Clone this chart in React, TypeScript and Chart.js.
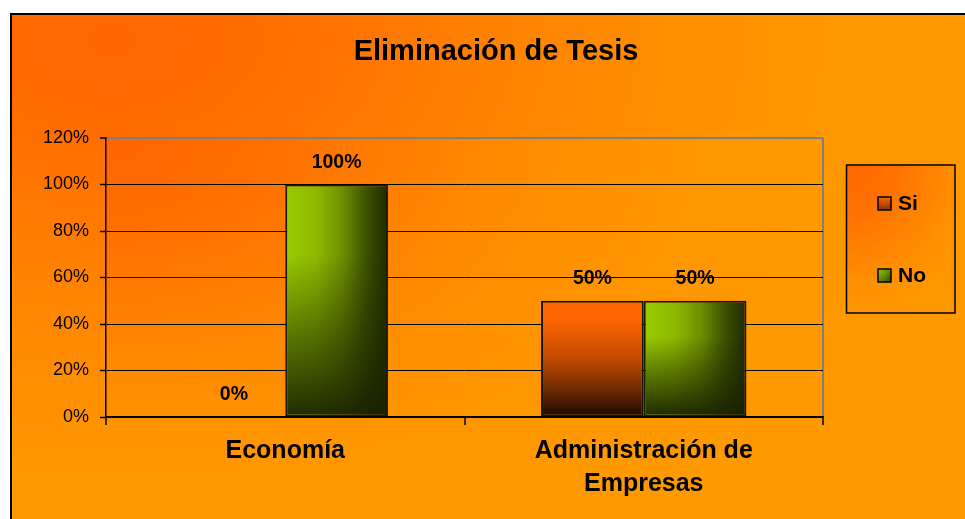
import React, { useEffect, useRef } from 'react';
import { Chart, registerables } from 'chart.js';

Chart.register(...registerables);

const titleText = 'Eliminación de Tesis';
const categories: (string | string[])[] = ['Economía', ['Administración de', 'Empresas']];
const seriesNames = ['Si', 'No'];
const siValues = [0, 50];
const noValues = [100, 50];
const yMax = 120;
const yStep = 20;

const FONT = "'Liberation Sans', Arial, Helvetica, sans-serif";
const CAT_PCT = 0.573;

type Stop = [number, string];

function fillElliptical(
  ctx: CanvasRenderingContext2D,
  cx: number, cy: number, rx: number, ry: number,
  stops: Stop[], x: number, y: number, w: number, h: number
) {
  ctx.save();
  ctx.beginPath();
  ctx.rect(x, y, w, h);
  ctx.clip();
  ctx.translate(cx, cy);
  const k = ry / rx;
  ctx.scale(1, k);
  const g = ctx.createRadialGradient(0, 0, 0, 0, 0, rx);
  stops.forEach(([o, c]) => g.addColorStop(o, c));
  ctx.fillStyle = g;
  ctx.fillRect(x - cx, (y - cy) / k, w, h / k);
  ctx.restore();
}

function siGradient(ctx: CanvasRenderingContext2D, top: number, bottom: number) {
  const g = ctx.createLinearGradient(0, top, 0, bottom);
  g.addColorStop(0, '#FF6600');
  g.addColorStop(0.18, '#FA6300');
  g.addColorStop(0.5, '#C24A00');
  g.addColorStop(0.78, '#6A2800');
  g.addColorStop(1, '#1C0700');
  return g;
}

function noGradient(ctx: CanvasRenderingContext2D, left: number, right: number) {
  const g = ctx.createLinearGradient(left, 0, right, 0);
  g.addColorStop(0, '#99CC00');
  g.addColorStop(0.3, '#8DBA00');
  g.addColorStop(0.55, '#6F9000');
  g.addColorStop(0.78, '#3E5500');
  g.addColorStop(1, '#1E2800');
  return g;
}

function barGeom(chart: any, datasetIndex: number, dataIndex: number) {
  const xs = chart.scales.x;
  const ys = chart.scales.y;
  const center = xs.getPixelForValue(dataIndex);
  const catW = xs.width / categories.length;
  const barW = (catW * CAT_PCT) / 2;
  const left = center - barW + datasetIndex * barW;
  const value = chart.data.datasets[datasetIndex].data[dataIndex] as number;
  return { left, right: left + barW, top: ys.getPixelForValue(value), bottom: ys.getPixelForValue(0) };
}

const decorPlugin = {
  id: 'decor',
  beforeDraw(chart: any) {
    const ctx: CanvasRenderingContext2D = chart.ctx;
    const W = chart.width;
    const H = chart.height;
    ctx.save();
    ctx.fillStyle = '#FFFFFF';
    ctx.fillRect(0, 0, W, H);
    // frame background
    fillElliptical(ctx, 110, 40, 850, 520, [
      [0, '#FF6600'], [0.15, '#FF6B00'], [0.5, '#FF8500'], [0.8, '#FF9600'], [1, '#FF9900'],
    ], 10, 13, W - 10, H - 13);
    ctx.strokeStyle = '#000000';
    ctx.lineWidth = 2;
    ctx.strokeRect(11, 14, W, H);
    // plot area background
    const a = chart.chartArea;
    fillElliptical(ctx, a.left, a.top, 720, 420, [
      [0, '#FF6400'], [0.2, '#FF6E00'], [0.55, '#FF8A00'], [0.85, '#FF9800'], [1, '#FF9900'],
    ], a.left, a.top, a.right - a.left, a.bottom - a.top);
    // title
    ctx.fillStyle = '#000000';
    ctx.font = `bold 29px ${FONT}`;
    ctx.textAlign = 'center';
    ctx.textBaseline = 'alphabetic';
    ctx.fillText(titleText, 496, 60);
    ctx.restore();
  },
  afterDatasetDraw(chart: any, args: any) {
    if (args.index !== 1) return;
    const ctx: CanvasRenderingContext2D = chart.ctx;
    const meta = chart.getDatasetMeta(1);
    ctx.save();
    meta.data.forEach((el: any) => {
      const bw = 2;
      const left = el.x - el.width / 2 + bw;
      const right = el.x + el.width / 2 - bw;
      const top = el.y + bw;
      const bottom = el.base - bw;
      if (bottom - top < 1) return;
      const g = ctx.createLinearGradient(0, top, 0, bottom);
      g.addColorStop(0, 'rgba(28,38,0,0)');
      g.addColorStop(0.3, 'rgba(28,38,0,0)');
      g.addColorStop(0.65, 'rgba(28,38,0,0.5)');
      g.addColorStop(1, 'rgba(24,32,0,0.92)');
      ctx.fillStyle = g;
      ctx.fillRect(left, top, right - left, bottom - top);
    });
    ctx.restore();
  },
  afterDatasetsDraw(chart: any) {
    const ctx: CanvasRenderingContext2D = chart.ctx;
    ctx.save();
    ctx.fillStyle = '#000000';
    ctx.font = `bold 19.5px ${FONT}`;
    ctx.textAlign = 'center';
    ctx.textBaseline = 'middle';
    chart.data.datasets.forEach((ds: any, di: number) => {
      const meta = chart.getDatasetMeta(di);
      meta.data.forEach((el: any, i: number) => {
        ctx.fillText(`${ds.data[i]}%`, el.x, el.y - 22);
      });
    });
    ctx.restore();
  },
  afterDraw(chart: any) {
    const ctx: CanvasRenderingContext2D = chart.ctx;
    ctx.save();
    const bx = 846.5, by = 165, bw = 108.5, bh = 148;
    fillElliptical(ctx, bx, by, 150, 160, [
      [0, '#FF6600'], [0.35, '#FF7400'], [0.75, '#FF9000'], [1, '#FF9900'],
    ], bx, by, bw, bh);
    ctx.strokeStyle = '#000000';
    ctx.lineWidth = 1.5;
    ctx.strokeRect(bx, by, bw, bh);
    chart.data.datasets.forEach((ds: any, i: number) => {
      const cy = 203.5 + i * 72;
      const s = 13;
      const x0 = 878, y0 = cy - s / 2;
      let g: CanvasGradient;
      if (i === 0) {
        g = ctx.createLinearGradient(0, y0, 0, y0 + s);
        g.addColorStop(0, '#FF6600');
        g.addColorStop(1, '#8A3000');
      } else {
        g = ctx.createLinearGradient(x0, y0, x0 + s, y0 + s);
        g.addColorStop(0, '#99CC00');
        g.addColorStop(1, '#344800');
      }
      ctx.fillStyle = g;
      ctx.fillRect(x0, y0, s, s);
      ctx.lineWidth = 1.5;
      ctx.strokeStyle = '#000000';
      ctx.strokeRect(x0, y0, s, s);
      ctx.fillStyle = '#000000';
      ctx.font = `bold 21px ${FONT}`;
      ctx.textAlign = 'left';
      ctx.textBaseline = 'middle';
      ctx.fillText(ds.label, 898, cy + 1);
    });
    ctx.restore();
  },
};

export default function App() {
  const ref = useRef<HTMLCanvasElement | null>(null);
  useEffect(() => {
    if (!ref.current) return;
    const chart = new Chart(ref.current, {
      type: 'bar',
      data: {
        labels: categories,
        datasets: [
          {
            label: seriesNames[0],
            data: siValues,
            backgroundColor: (c: any) => {
              const ch = c.chart;
              if (!ch.chartArea || c.dataIndex === undefined) return '#FF6600';
              const g = barGeom(ch, 0, c.dataIndex);
              return siGradient(ch.ctx, g.top, g.bottom);
            },
            borderColor: '#1A1200',
            borderWidth: 2,
            borderSkipped: false,
          },
          {
            label: seriesNames[1],
            data: noValues,
            backgroundColor: (c: any) => {
              const ch = c.chart;
              if (!ch.chartArea || c.dataIndex === undefined) return '#99CC00';
              const g = barGeom(ch, 1, c.dataIndex);
              return noGradient(ch.ctx, g.left, g.right);
            },
            borderColor: '#1A1A00',
            borderWidth: 2,
            borderSkipped: false,
          },
        ],
      },
      options: {
        animation: false,
        responsive: false,
        maintainAspectRatio: false,
        devicePixelRatio: 1,
        layout: { padding: { left: 0, right: 142, top: 138, bottom: 0 } },
        datasets: { bar: { categoryPercentage: CAT_PCT, barPercentage: 1 } },
        plugins: {
          legend: { display: false },
          title: { display: false },
          tooltip: { enabled: false },
        },
        scales: {
          x: {
            afterFit: (s: any) => { s.height = 102; },
            grid: {
              offset: true,
              drawOnChartArea: true,
              color: (c: any) => (c.index === undefined ? '#7F7F7F' : 'rgba(0,0,0,0)'),
              lineWidth: 2,
              tickColor: '#000000',
              tickLength: 8,
              tickWidth: 1.5,
            },
            border: { display: true, color: '#000000', width: 1.5 },
            ticks: {
              color: '#000000',
              padding: 10,
              maxRotation: 0,
              autoSkip: false,
              font: { family: FONT, size: 25, weight: 'bold', lineHeight: 1.3 },
            },
          },
          y: {
            min: 0,
            max: yMax,
            afterFit: (s: any) => { s.width = 106; },
            grid: {
              color: (c: any) => (c.tick && c.tick.value === yMax ? '#7F7F7F' : '#000000'),
              lineWidth: (c: any) => (c.tick && c.tick.value === yMax ? 2 : 1),
              tickColor: '#000000',
              tickLength: 6,
              tickWidth: 1.5,
            },
            border: { display: true, color: '#000000', width: 1.5 },
            ticks: {
              stepSize: yStep,
              color: '#000000',
              padding: 11,
              font: { family: FONT, size: 18 },
              callback: (v: any) => `${v}%`,
            },
          },
        },
      },
      plugins: [decorPlugin],
    } as any);
    return () => chart.destroy();
  }, []);
  return (
    <div style={{ position: 'absolute', left: 0, top: 0, width: 965, height: 519 }}>
      <canvas ref={ref} width={965} height={519} style={{ display: 'block', width: 965, height: 519 }} />
    </div>
  );
}
